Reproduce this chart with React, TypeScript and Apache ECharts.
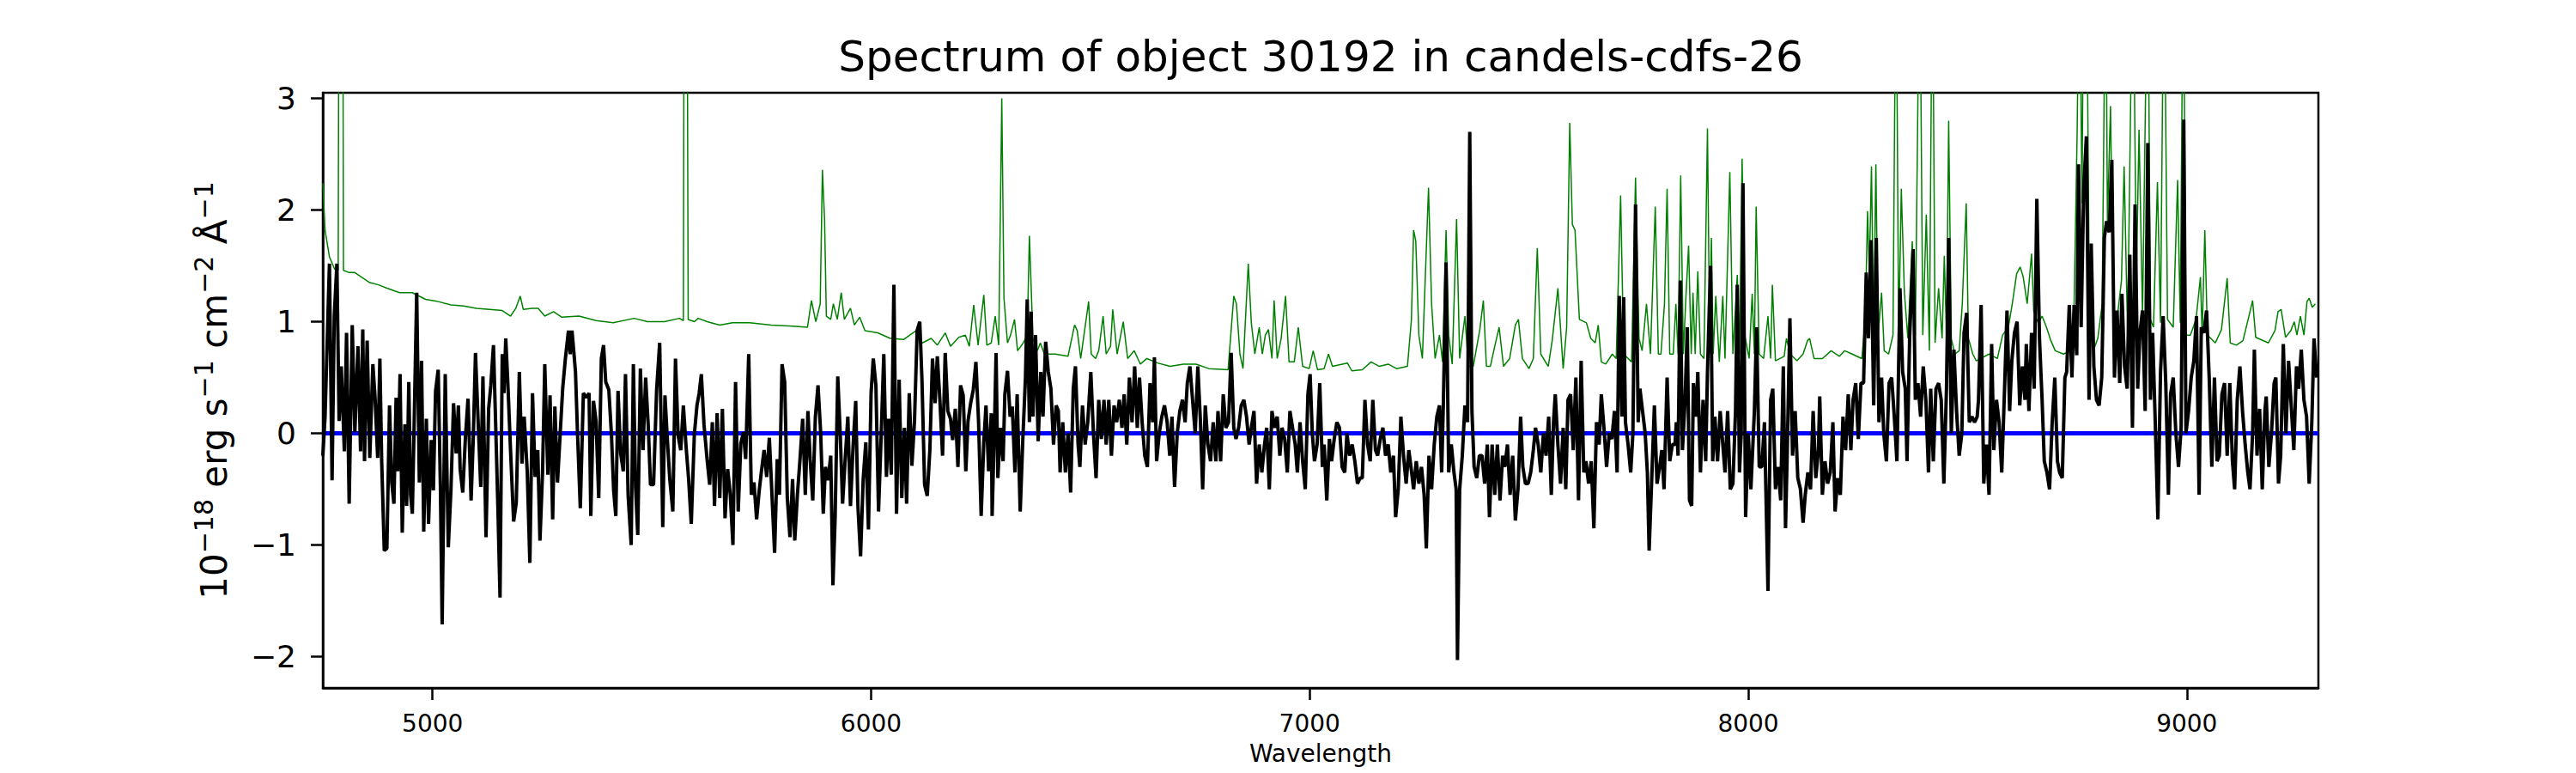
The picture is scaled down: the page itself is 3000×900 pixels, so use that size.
import React, { useEffect, useRef } from "react";
import * as echarts from "echarts";

const TITLE = "Spectrum of object 30192 in candels-cdfs-26";
const X_LABEL = "Wavelength";
// y label: [base text, superscript] pairs
const Y_LABEL_PARTS: string[][] = [
  ["10", "−18"],
  [" erg s", "−1"],
  [" cm", "−2"],
  [" Å", "−1"],
];
const X_MIN = 4750;
const X_MAX = 9300;
const Y_MIN = -2.28;
const Y_MAX = 3.05;
const X_TICKS = [5000, 6000, 7000, 8000, 9000];
const Y_TICKS = [-2, -1, 0, 1, 2, 3];

// measured flux (black)
const FLUX: number[][] = [
  [4750,-0.2],[4755,0.15],[4765,1.52],[4771,-0.42],[4776,1.05],[4782,1.52],[4787,0.11],[4792,0.6],[4799,-0.16],[4804,0.9],[4810,-0.63],[4817,0.97],[4823,0.01],[4830,0.78],[4836,-0.16],[4841,0.93],[4845,-0.25],[4851,0.83],[4857,-0.22],[4864,0.62],[4869,0.32],[4875,-0.22],[4880,0.67],[4884,-0.23],[4890,-1.05],[4896,-1.03],[4902,0.25],[4907,-0.44],[4912,-0.63],[4917,0.32],[4921,-0.34],[4926,0.53],[4931,-0.89],[4937,0.08],[4941,-0.65],[4946,0.46],[4950,-0.55],[4954,-0.72],[4958,0.05],[4964,1.26],[4970,-0.44],[4975,0.65],[4980,-0.88],[4986,0.13],[4991,-0.81],[4997,-0.06],[5002,-0.51],[5007,0.38],[5013,0.57],[5018,-0.48],[5022,-1.71],[5029,0.53],[5036,-1.02],[5042,-0.51],[5048,0.27],[5054,-0.18],[5059,0.25],[5063,-0.32],[5069,-0.53],[5075,-0.04],[5081,0.31],[5088,-0.6],[5093,-0.04],[5098,0.72],[5104,0.11],[5110,-0.48],[5115,0.51],[5122,-0.93],[5128,0.22],[5133,0.43],[5139,0.79],[5144,0.08],[5149,-0.65],[5154,-1.47],[5159,0.71],[5163,0.36],[5167,0.85],[5172,0.43],[5178,-0.16],[5185,-0.79],[5191,-0.62],[5198,0.55],[5204,-0.27],[5209,0.15],[5216,-0.34],[5222,-1.16],[5228,0.36],[5234,-0.39],[5240,-0.15],[5245,-0.96],[5251,-0.34],[5256,0.62],[5263,-0.37],[5268,0.34],[5274,-0.77],[5279,0.24],[5285,-0.44],[5291,-0.01],[5297,0.41],[5303,0.67],[5310,0.92],[5314,0.71],[5318,0.92],[5322,0.74],[5326,0.55],[5331,-0.04],[5337,-0.67],[5344,0.36],[5351,0.32],[5357,0.36],[5361,-0.74],[5367,0.29],[5373,0.11],[5379,-0.58],[5385,0.67],[5390,0.79],[5395,0.46],[5402,0.39],[5408,-0.01],[5413,-0.51],[5418,-0.74],[5423,0.38],[5429,-0.18],[5435,-0.34],[5440,0.53],[5446,-0.55],[5453,-1.0],[5458,0.62],[5463,-0.48],[5468,-0.91],[5474,0.58],[5480,-0.15],[5486,0.5],[5492,0.06],[5497,-0.46],[5504,-0.46],[5511,0.39],[5518,0.81],[5525,-0.84],[5530,0.34],[5535,-0.02],[5541,-0.41],[5548,-0.7],[5554,0.67],[5560,-0.02],[5566,-0.15],[5572,0.25],[5578,-0.11],[5584,-0.41],[5590,-0.81],[5597,-0.01],[5603,0.25],[5608,0.36],[5613,0.53],[5619,0.08],[5626,-0.23],[5632,-0.46],[5638,0.1],[5643,-0.65],[5649,0.18],[5655,-0.58],[5661,0.22],[5667,-0.76],[5673,-0.32],[5679,-0.55],[5685,-1.0],[5691,0.46],[5697,-0.7],[5703,-0.09],[5709,0.01],[5714,-0.23],[5721,0.71],[5727,-0.55],[5733,-0.44],[5739,-0.77],[5745,-0.51],[5750,-0.34],[5756,-0.15],[5762,-0.39],[5768,-0.04],[5774,-0.55],[5780,-1.07],[5786,-0.23],[5791,-0.55],[5797,0.62],[5803,0.46],[5809,-0.58],[5815,-0.93],[5821,-0.41],[5826,-0.96],[5832,-0.55],[5838,-0.23],[5844,0.13],[5850,-0.55],[5856,0.2],[5861,-0.23],[5867,-0.6],[5873,0.15],[5879,0.43],[5885,0.01],[5891,-0.72],[5896,-0.3],[5902,-0.42],[5908,-0.2],[5913,-1.36],[5918,-0.76],[5924,0.51],[5930,-0.04],[5935,-0.63],[5941,-0.23],[5947,0.15],[5953,-0.65],[5959,-0.11],[5965,0.29],[5970,-0.65],[5976,-1.1],[5982,-0.41],[5988,-0.08],[5994,-0.86],[6000,0.36],[6005,0.67],[6011,0.43],[6017,-0.7],[6023,-0.02],[6029,0.71],[6035,-0.39],[6040,0.13],[6046,-0.37],[6052,1.33],[6058,-0.72],[6064,0.48],[6070,-0.58],[6076,0.05],[6081,-0.63],[6087,0.36],[6093,-0.29],[6099,0.11],[6105,0.92],[6111,1.0],[6116,0.48],[6122,-0.46],[6128,-0.56],[6134,-0.15],[6140,0.67],[6146,0.27],[6151,0.69],[6157,0.29],[6163,-0.2],[6169,0.72],[6175,0.2],[6181,0.13],[6186,-0.06],[6192,0.22],[6198,-0.3],[6204,0.43],[6210,0.34],[6216,-0.34],[6221,0.11],[6227,0.27],[6233,0.39],[6239,0.64],[6245,0.11],[6251,-0.74],[6257,-0.08],[6262,0.25],[6268,-0.34],[6274,0.18],
  [6276,-0.74],[6282,0.17],[6285,0.72],[6289,-0.4],[6295,0.05],[6301,-0.25],[6305,0.35],[6311,0.56],[6317,0.15],[6322,0.24],[6328,-0.35],[6333,0.35],[6340,-0.7],[6346,-0.05],[6352,0.5],[6356,1.2],[6361,0.1],[6365,1.09],[6369,0.15],[6375,0.88],[6381,-0.07],[6387,0.55],[6392,0.15],[6398,0.82],[6404,0.55],[6410,0.4],[6416,-0.1],[6422,0.25],[6427,0.2],[6431,-0.35],[6437,0.1],[6443,-0.35],[6449,0.0],[6455,-0.53],[6461,0.4],[6466,0.6],[6472,-0.1],[6476,-0.3],[6482,0.25],[6488,-0.1],[6494,0.1],[6501,0.55],[6507,0.0],[6513,-0.4],[6519,0.3],[6525,-0.05],[6531,0.3],[6536,-0.1],[6542,0.3],[6548,-0.2],[6554,0.25],[6560,0.1],[6566,0.3],[6572,0.05],[6577,0.35],[6583,-0.1],[6589,0.5],[6595,0.1],[6601,0.6],[6607,0.05],[6612,0.5],[6618,0.1],[6624,-0.2],[6630,-0.3],[6636,0.45],[6642,0.1],[6646,0.68],[6651,-0.25],[6657,0.0],[6663,0.15],[6669,0.25],[6675,0.1],[6681,-0.2],[6686,0.15],[6692,-0.48],[6698,0.0],[6704,0.2],[6710,0.3],[6716,0.1],[6721,0.45],[6727,0.6],[6733,0.3],[6739,0.0],[6745,0.6],[6751,0.1],[6756,-0.5],[6762,0.25],[6768,-0.1],[6774,-0.25],[6780,0.1],[6786,-0.25],[6791,0.2],[6797,-0.25],[6803,0.35],[6809,0.05],[6815,0.1],[6821,0.72],[6827,0.05],[6832,-0.05],[6838,0.05],[6844,0.25],[6850,0.3],[6856,0.15],[6862,-0.1],[6867,0.05],[6873,0.2],[6879,-0.45],[6885,-0.1],[6891,-0.35],[6897,-0.1],[6902,0.05],[6908,-0.5],[6914,0.2],[6920,0.05],[6926,0.15],[6932,-0.2],[6937,0.05],[6943,-0.05],[6949,-0.35],[6955,0.2],[6961,0.05],[6967,-0.1],[6972,-0.35],[6978,0.1],[6984,-0.25],[6990,-0.5],[6996,0.35],[7001,0.53],[7006,0.0],[7011,-0.25],[7017,-0.1],[7023,0.45],[7029,-0.3],[7033,-0.1],[7039,-0.6],[7045,-0.05],[7050,-0.25],[7056,-0.05],[7062,0.1],[7068,0.05],[7074,-0.3],[7080,-0.35],[7085,0.0],[7091,-0.2],[7097,-0.1],[7103,-0.25],[7109,-0.45],[7115,-0.4],[7120,-0.4],[7126,0.3],[7132,-0.1],[7138,-0.25],[7144,0.3],[7150,-0.15],[7155,-0.2],[7161,-0.05],[7167,0.05],[7173,-0.2],[7179,-0.1],[7185,-0.35],[7191,-0.2],[7196,-0.75],[7202,-0.5],[7208,0.15],[7214,-0.2],[7220,-0.45],[7226,-0.15],[7231,-0.3],[7237,-0.5],[7243,-0.25],[7249,-0.45],[7255,-0.3],[7261,-0.55],[7266,-1.03],[7272,-0.2],[7278,-0.5],[7284,-0.1],[7290,0.15],[7296,0.25],[7301,-0.35],[7305,0.3],[7311,1.53],[7317,-0.35],[7323,-0.1],[7329,-0.35],[7334,-0.5],[7337,-2.03],[7342,-0.5],[7348,-0.2],[7354,0.25],[7360,0.1],[7365,2.7],[7370,0.2],[7375,-0.3],[7381,-0.4],[7387,-0.2],[7393,-0.2],[7399,-0.45],[7405,-0.1],[7410,-0.75],[7416,-0.1],[7422,-0.55],[7428,-0.1],[7434,-0.6],[7440,-0.2],[7445,-0.3],[7451,-0.1],[7457,-0.55],[7463,-0.2],[7469,-0.78],[7475,-0.5],[7481,0.15],[7486,-0.3],[7492,-0.45],[7498,-0.45],[7504,-0.35],[7510,-0.15],[7515,0.05],[7521,-0.1],[7527,-0.35],[7533,0.0],[7539,-0.2],[7545,0.15],[7551,-0.55],[7556,0.1],[7560,0.35],[7566,-0.1],[7572,-0.45],[7578,0.05],[7584,-0.5],[7589,0.3],[7595,0.35],[7601,-0.15],[7607,0.5],[7613,-0.6],[7619,0.65],[7625,-0.35],[7630,-0.25],[7636,-0.45],[7642,-0.25],[7648,-0.85],[7654,0.1],[7660,-0.1],[7665,0.35],[7671,0.05],[7677,-0.3],[7683,0.0],[7689,-0.05],[7695,0.2],[7701,-0.35],[7706,1.23],[7712,0.15],[7716,1.22],[7720,0.1],[7726,-0.1],[7732,-0.35],[7737,0.0],[7743,2.05],[7749,0.1],[7753,0.4],[7759,0.2],[7765,0.0],[7770,-0.35],[7774,-1.05],
  [7786,0.25],[7792,-0.45],[7798,-0.3],[7803,-0.15],[7808,-0.5],[7815,0.5],[7821,-0.25],[7827,-0.1],[7833,-0.1],[7836,0.1],[7840,-0.2],[7845,1.37],[7850,-0.15],[7856,0.3],[7861,0.95],[7866,-0.6],[7871,-0.65],[7875,0.45],[7881,0.15],[7885,0.55],[7891,-0.35],[7897,0.3],[7903,-0.25],[7907,0.55],[7914,1.5],[7919,-0.25],[7924,0.15],[7930,-0.25],[7936,0.2],[7942,-0.1],[7947,-0.35],[7953,0.2],[7959,-0.5],[7965,-0.45],[7971,0.2],[7975,1.33],[7980,-0.35],[7984,0.0],[7988,2.24],[7994,-0.75],[8000,0.0],[8006,-0.5],[8014,0.2],[8019,0.95],[8025,-0.3],[8031,-0.3],[8037,0.1],[8045,-1.41],[8051,0.3],[8056,0.4],[8062,-0.5],[8068,-0.3],[8074,-0.6],[8080,0.6],[8085,-0.85],[8089,-0.15],[8095,1.03],[8101,-0.2],[8107,0.2],[8113,-0.4],[8119,-0.5],[8125,-0.8],[8130,-0.55],[8136,-0.35],[8142,-0.5],[8148,0.2],[8154,-0.4],[8160,-0.15],[8163,0.33],[8169,-0.55],[8175,-0.25],[8181,-0.45],[8187,-0.35],[8193,0.1],[8198,-0.7],[8204,-0.4],[8210,-0.55],[8216,0.15],[8222,-0.15],[8228,0.35],[8234,-0.15],[8239,0.3],[8245,0.45],[8251,-0.05],[8257,0.45],[8263,0.45],[8269,1.44],[8274,0.85],[8280,1.73],[8286,0.25],[8292,1.75],[8298,0.1],[8304,0.5],[8309,0.0],[8315,-0.25],[8321,0.45],[8327,0.5],[8333,0.15],[8339,-0.25],[8346,1.3],[8352,0.55],[8358,0.4],[8362,-0.25],[8368,0.85],[8376,1.65],[8381,0.3],[8387,0.45],[8393,0.15],[8399,0.6],[8405,0.3],[8411,-0.35],[8416,0.4],[8422,-0.25],[8428,0.4],[8434,0.45],[8440,0.3],[8446,-0.45],[8452,0.4],[8457,1.75],[8463,0.0],[8469,0.75],[8475,0.2],[8481,-0.2],[8487,0.0],[8492,0.9],[8498,1.08],[8504,0.1],[8510,0.15],[8516,0.1],[8522,0.15],[8525,0.3],[8531,1.15],[8537,-0.45],[8543,-0.1],[8549,-0.55],[8555,0.8],[8560,-0.15],[8566,0.3],[8572,0.1],[8578,-0.35],[8584,0.35],[8590,1.1],[8596,0.2],[8601,0.65],[8607,0.9],[8613,1.0],[8619,0.25],[8625,0.6],[8631,0.3],[8634,0.8],[8640,0.2],[8646,0.9],[8652,0.4],[8658,2.1],[8664,0.85],[8670,0.3],[8675,-0.25],[8681,-0.35],[8687,-0.5],[8693,0.1],[8699,0.5],[8705,-0.25],[8710,-0.35],[8716,-0.4],[8722,0.5],[8726,0.55],[8732,1.15],[8738,0.5],[8743,1.15],[8749,0.7],[8753,2.41],[8759,0.95],[8765,2.2],[8771,2.66],[8777,0.3],[8782,1.7],[8788,0.6],[8794,0.3],[8800,0.25],[8806,0.5],[8812,1.75],[8817,1.9],[8823,1.8],[8829,2.45],[8835,0.5],[8841,1.1],[8847,0.45],[8852,1.25],[8858,0.6],[8864,0.4],[8870,1.6],[8876,0.05],[8882,2.05],[8888,0.4],[8893,0.9],[8899,1.1],[8905,0.2],[8911,2.6],[8917,0.3],[8922,0.9],[8928,0.1],[8934,-0.77],[8940,0.55],[8946,1.05],[8952,0.45],[8958,-0.55],[8963,0.35],[8969,0.5],[8975,0.0],[8981,-0.3],[8987,0.05],[8993,2.81],[8998,0.0],[9004,0.2],[9010,0.5],[9016,0.65],[9022,1.05],[9028,-0.55],[9033,0.95],[9039,0.9],[9045,1.1],[9051,0.5],[9057,-0.3],[9063,0.5],[9069,-0.25],[9074,-0.2],[9080,0.35],[9086,0.45],[9092,-0.2],[9098,0.45],[9104,-0.25],[9109,-0.5],[9115,0.3],[9121,0.6],[9127,0.2],[9133,-0.1],[9139,-0.35],[9144,-0.5],[9150,0.0],[9154,0.75],[9160,-0.2],[9166,0.22],[9172,-0.5],[9178,0.2],[9181,0.33],[9187,-0.3],[9193,0.0],[9199,0.45],[9203,0.5],[9209,-0.45],[9214,-0.2],[9220,0.8],[9226,0.0],[9232,0.65],[9238,0.25],[9244,-0.15],[9250,0.6],[9255,0.4],[9261,0.75],[9267,0.3],[9273,0.15],[9279,-0.45],[9285,0.1],[9290,0.85],[9296,0.5]
];

// measured noise (green)
const NOISE: number[][] = [
  [4750,2.24],[4755,1.82],[4765,1.58],[4777,1.47],[4785,1.46],[4787,5],[4795,5],[4797,1.46],[4810,1.44],[4823,1.44],[4838,1.4],[4857,1.35],[4877,1.33],[4896,1.3],[4925,1.26],[4954,1.26],[4984,1.2],[5013,1.18],[5042,1.15],[5071,1.14],[5100,1.12],[5130,1.11],[5159,1.1],[5178,1.05],[5190,1.12],[5200,1.23],[5207,1.11],[5227,1.12],[5241,1.12],[5256,1.05],[5276,1.09],[5295,1.04],[5334,1.05],[5373,1.01],[5412,0.99],[5460,1.03],[5490,1.0],[5529,1.0],[5563,1.03],[5572,1.01],[5574,5],[5580,5],[5583,1.02],[5597,1.0],[5606,1.03],[5626,1.0],[5655,0.97],[5684,0.99],[5723,0.99],[5772,0.97],[5821,0.96],[5855,0.95],[5864,1.19],[5874,1.0],[5884,1.16],[5889,2.36],[5894,1.91],[5898,1.05],[5908,1.02],[5914,1.16],[5923,1.02],[5932,1.26],[5939,1.02],[5953,1.12],[5962,0.97],[5974,1.04],[5986,0.92],[6015,0.9],[6044,0.85],[6074,0.84],[6103,0.92],[6112,0.8],[6137,0.85],[6151,0.79],[6169,0.9],[6181,0.78],[6200,0.86],[6215,0.88],[6224,0.78],[6234,1.15],[6244,0.79],[6257,1.24],[6264,0.79],
  [6274,0.81],[6283,1.05],[6291,0.79],[6298,3.0],[6303,1.21],[6311,0.81],[6318,0.88],[6327,1.02],[6334,0.74],[6347,0.81],[6356,0.88],[6361,1.77],[6369,0.85],[6379,0.74],[6386,0.81],[6395,0.71],[6420,0.71],[6449,0.69],[6464,0.97],[6470,0.92],[6478,0.67],[6496,1.18],[6502,0.71],[6512,0.67],[6519,0.74],[6529,1.05],[6536,0.71],[6546,0.78],[6551,1.11],[6561,0.71],[6575,1.0],[6585,0.67],[6600,0.74],[6614,0.62],[6629,0.67],[6653,0.63],[6682,0.6],[6712,0.62],[6741,0.62],[6770,0.58],[6814,0.57],[6827,1.23],[6833,1.16],[6841,0.71],[6848,0.58],[6860,1.52],[6867,0.99],[6875,0.71],[6885,0.95],[6892,0.71],[6899,0.88],[6906,0.93],[6914,0.67],[6919,1.19],[6926,0.67],[6935,0.85],[6945,1.23],[6953,0.64],[6965,0.64],[6974,0.95],[6984,0.6],[6999,0.58],[7008,0.74],[7018,0.57],[7033,0.58],[7043,0.71],[7052,0.6],[7086,0.63],[7096,0.56],[7120,0.57],[7140,0.64],[7159,0.6],[7179,0.62],[7198,0.58],[7223,0.6],[7232,1.02],[7237,1.82],[7242,1.72],[7249,0.88],[7257,0.67],[7271,2.2],[7278,1.16],[7286,0.67],[7296,0.88],[7303,0.64],[7311,1.82],[7317,0.88],[7325,0.62],[7335,1.92],[7342,0.67],[7354,1.05],[7362,0.6],[7373,0.6],[7388,0.93],[7396,1.19],[7403,0.6],[7412,0.6],[7422,0.78],[7432,0.95],[7442,0.6],[7456,0.67],[7469,0.97],[7476,1.02],[7485,0.67],[7500,0.58],[7510,0.67],[7519,1.66],[7527,0.71],[7544,0.6],[7553,0.83],[7566,1.3],[7578,0.58],[7586,0.95],[7593,2.78],[7599,1.87],[7605,1.82],[7615,1.02],[7631,0.99],[7641,0.85],[7651,0.81],[7658,0.97],[7665,0.64],[7675,0.62],[7690,0.71],[7699,0.67],[7709,2.13],[7716,0.71],[7734,0.64],[7743,2.29],[7751,0.85],[7758,0.74],[7768,1.16],[7777,0.71],
  [7788,2.03],[7795,0.71],[7801,0.71],[7809,1.16],[7815,2.19],[7821,0.71],[7829,0.71],[7835,1.16],[7840,0.71],[7846,2.31],[7852,0.71],[7858,1.23],[7864,1.68],[7870,0.71],[7874,1.26],[7879,0.71],[7885,1.45],[7891,0.71],[7899,0.67],[7907,2.73],[7912,0.85],[7916,1.75],[7920,0.71],[7926,1.23],[7934,0.64],[7942,1.23],[7947,0.67],[7958,2.34],[7965,0.71],[7975,1.42],[7980,0.71],[7986,2.46],[7992,0.88],[8002,0.67],[8009,1.25],[8014,0.71],[8018,2.03],[8025,0.71],[8035,0.67],[8045,1.05],[8051,0.67],[8055,1.33],[8062,0.65],[8082,0.69],[8087,0.85],[8096,0.71],[8111,0.65],[8125,0.71],[8135,0.83],[8140,0.85],[8150,0.67],[8169,0.67],[8189,0.74],[8208,0.69],[8220,0.74],[8237,0.71],[8259,0.67],[8267,1.02],[8272,1.99],[8276,1.44],[8281,2.39],[8286,0.88],[8291,2.41],[8296,0.88],[8304,1.26],[8310,0.74],[8320,0.71],[8330,0.88],[8337,4.5],[8343,0.85],[8349,2.19],[8356,1.26],[8364,0.85],[8374,1.72],[8381,0.88],[8391,4.5],[8398,0.88],[8406,1.96],[8413,0.74],[8420,4.5],[8426,0.81],[8434,1.3],[8442,0.85],[8447,1.59],[8452,0.85],[8457,2.8],[8463,0.85],[8471,0.71],[8481,0.74],[8488,1.16],[8497,2.06],[8502,0.85],[8512,0.71],[8520,0.65],[8549,0.71],[8568,0.67],[8580,0.88],[8593,0.95],[8602,1.16],[8612,1.43],[8620,1.49],[8627,1.4],[8636,1.16],[8646,1.61],[8651,1.09],[8661,0.99],[8670,1.05],[8680,0.95],[8690,0.83],[8700,0.74],[8719,0.71],[8734,0.74],[8743,1.16],[8750,2.71],[8755,4.5],[8761,2.06],[8765,4.5],[8771,4.5],[8778,1.02],[8787,0.74],[8797,0.85],[8807,1.16],[8815,4.5],[8819,1.89],[8826,2.93],[8833,0.88],[8841,1.02],[8851,1.37],[8857,2.39],[8865,0.88],[8877,4.5],[8885,1.37],[8891,2.72],[8899,1.05],[8911,4.5],[8917,1.02],[8924,0.95],[8933,2.25],[8940,0.99],[8948,4.5],[8956,1.02],[8969,0.95],[8979,2.27],[8985,0.99],[8992,4.5],[8998,0.88],[9008,0.88],[9021,1.02],[9031,1.4],[9035,0.88],[9041,1.82],[9047,0.88],[9065,0.81],[9079,0.93],[9092,1.39],[9099,0.81],[9113,0.79],[9128,0.83],[9141,1.04],[9150,1.19],[9157,0.86],[9186,0.81],[9201,0.92],[9208,1.09],[9215,1.11],[9225,0.86],[9237,0.92],[9245,1.0],[9251,0.88],[9259,1.05],[9267,0.88],[9274,1.18],[9279,1.21],[9286,1.13],[9293,1.16]
];

const ZERO_LINE: number[][] = [[4750, 0], [9300, 0]];

const FONT = "DejaVu Sans";

function fmtYTick(v: number): string {
  return v < 0 ? "\u2212" + String(Math.abs(v)) : String(v);
}

function fmtXTick(v: number): string {
  return String(v);
}

function buildYLabel(): string {
  return Y_LABEL_PARTS.map(([base, sup]) => `{n|${base}}{s|${sup}}`).join("");
}

export default function App() {
  const ref = useRef<HTMLDivElement>(null);
  useEffect(() => {
    document.body.style.margin = "0";
    if (!ref.current) return;
    const chart = echarts.init(ref.current, null, { renderer: "svg" });
    chart.setOption({
      animation: false,
      backgroundColor: "#ffffff",
      textStyle: { fontFamily: FONT },
      graphic: [
        {
          type: "text",
          x: 1538,
          y: 66,
          silent: true,
          style: {
            text: TITLE,
            fontFamily: FONT,
            fontSize: 50,
            fill: "#000",
            align: "center",
            verticalAlign: "middle",
          },
        },
      ],
      grid: {
        left: 376,
        right: 300,
        top: 108,
        bottom: 99,
        show: true,
        borderColor: "#000",
        borderWidth: 2.5,
        backgroundColor: "transparent",
        containLabel: false,
        outerBoundsMode: "none",
      },
      xAxis: {
        type: "value",
        min: X_MIN,
        max: X_MAX,
        splitLine: { show: false },
        axisLine: { show: true, onZero: false, lineStyle: { color: "#000", width: 2.5 } },
        axisTick: { show: true, length: 14, lineStyle: { color: "#000", width: 2.5 }, customValues: X_TICKS },
        axisLabel: { customValues: X_TICKS, fontSize: 28, color: "#000", fontFamily: FONT, margin: 27, formatter: fmtXTick },
        name: X_LABEL,
        nameLocation: "middle",
        nameGap: 62,
        nameTextStyle: { fontSize: 28, color: "#000", fontFamily: FONT },
      },
      yAxis: {
        type: "value",
        min: Y_MIN,
        max: Y_MAX,
        splitLine: { show: false },
        axisLine: { show: true, onZero: false, lineStyle: { color: "#000", width: 2.5 } },
        axisTick: { show: true, length: 14, lineStyle: { color: "#000", width: 2.5 }, customValues: Y_TICKS },
        axisLabel: { customValues: Y_TICKS, fontSize: 36, color: "#000", fontFamily: FONT, margin: 31, formatter: fmtYTick },
        name: buildYLabel(),
        nameLocation: "middle",
        nameRotate: 90,
        nameGap: 100,
        nameTextStyle: {
          fontSize: 42,
          color: "#000",
          fontFamily: FONT,
          rich: {
            n: { fontSize: 42, lineHeight: 54, fontFamily: FONT, color: "#000" },
            s: { fontSize: 30, lineHeight: 30, verticalAlign: "top", fontFamily: FONT, color: "#000" },
          },
        },
      },
      series: [
        {
          type: "line",
          data: NOISE,
          showSymbol: false,
          symbol: "none",
          silent: true,
          clip: true,
          lineStyle: { color: "#008000", width: 1.5 },
          z: 2,
        },
        {
          type: "line",
          data: ZERO_LINE,
          showSymbol: false,
          symbol: "none",
          silent: true,
          clip: true,
          lineStyle: { color: "#0000ff", width: 5 },
          z: 3,
        },
        {
          type: "line",
          data: FLUX,
          showSymbol: false,
          symbol: "none",
          silent: true,
          clip: true,
          lineStyle: { color: "#000000", width: 4 },
          z: 4,
        },
      ],
    });
    return () => chart.dispose();
  }, []);
  return <div ref={ref} style={{ width: 3000, height: 900 }} />;
}
